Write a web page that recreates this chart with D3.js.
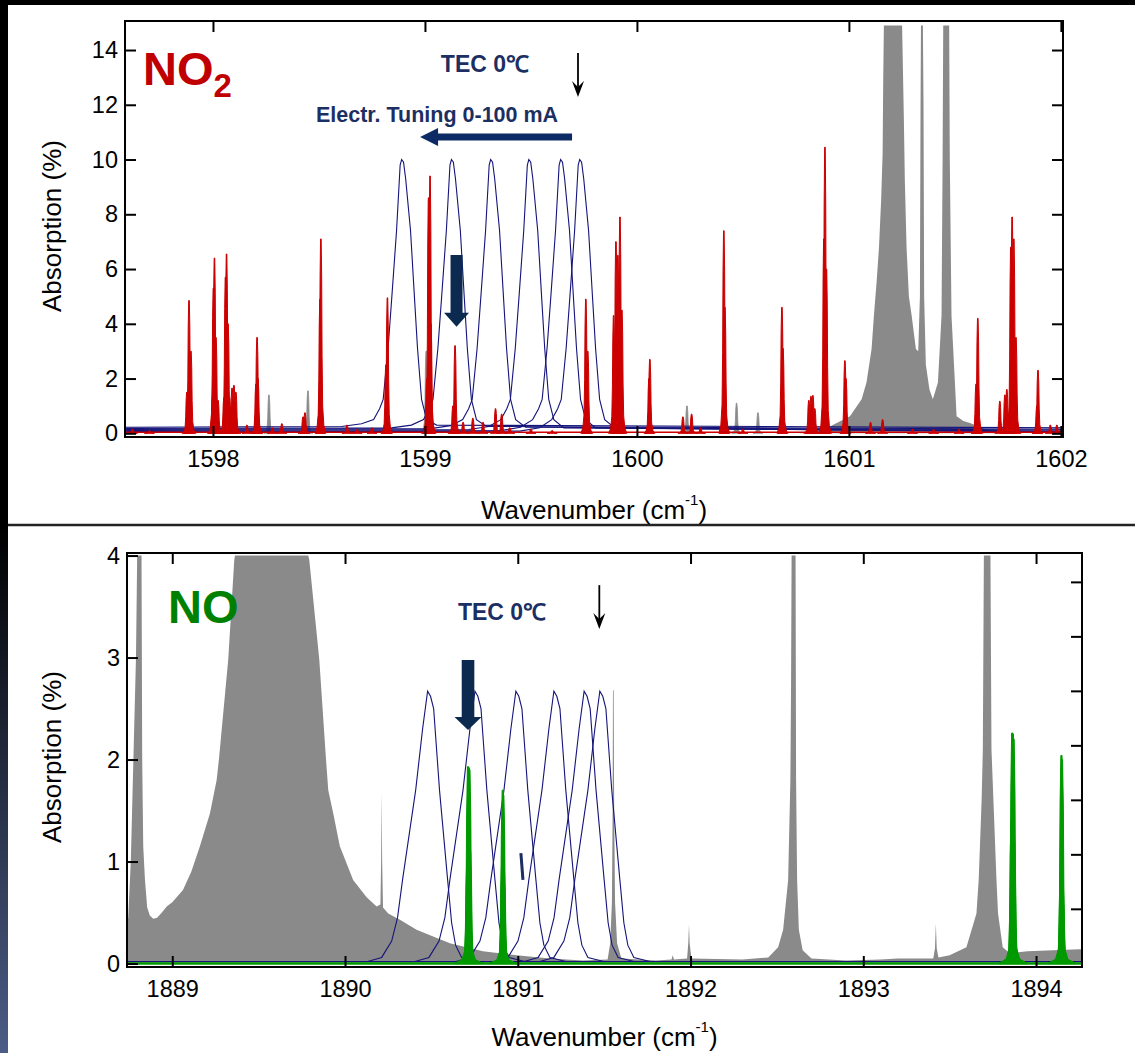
<!DOCTYPE html>
<html>
<head>
<meta charset="utf-8">
<script src="https://cdn.jsdelivr.net/npm/d3@7"></script>
<style>
body { margin: 0; background: #fff; }
svg { display: block; }
</style>
</head>
<body>
<div id="mainDiv"></div>
<script>
'use strict';

// ---------- NO2 panel (1597.6 - 1602 cm-1) ----------
var no2XTicks = [1598, 1599, 1600, 1601, 1602];
var no2YTicks = [0, 2, 4, 6, 8, 10, 12, 14];

// red NO2 absorption lines: [wavenumber, absorption %]
var no2Lines = [
    [1597.62, 0.15], [1597.70, 0.1],
    [1597.877, 1.5], [1597.887, 4.85], [1597.896, 3.0],
    [1597.998, 1.35], [1598.002, 5.3], [1598.007, 6.4], [1598.014, 3.5], [1598.024, 1.2],
    [1598.052, 1.3], [1598.059, 5.7], [1598.064, 6.55], [1598.071, 4.0], [1598.078, 1.3],
    [1598.090, 1.65], [1598.099, 1.75], [1598.108, 1.5],
    [1598.16, 0.3],
    [1598.203, 1.8], [1598.208, 3.5], [1598.212, 2.0],
    [1598.28, 0.2], [1598.325, 0.35],
    [1598.425, 0.6], [1598.434, 0.75],
    [1598.505, 4.9], [1598.509, 7.1],
    [1598.632, 0.3], [1598.68, 0.15], [1598.75, 0.2],
    [1598.816, 2.5], [1598.823, 4.95],
    [1599.009, 2.0], [1599.017, 8.6], [1599.024, 9.4], [1599.028, 4.0],
    [1599.132, 1.0], [1599.142, 3.2],
    [1599.18, 0.4], [1599.226, 0.55], [1599.274, 0.4], [1599.333, 0.9], [1599.362, 0.7], [1599.40, 0.2],
    [1599.50, 0.15], [1599.60, 0.1],
    [1599.759, 4.9], [1599.768, 3.0],
    [1599.89, 4.3], [1599.901, 7.0], [1599.910, 6.5], [1599.920, 7.9], [1599.929, 4.5],
    [1600.057, 2.0], [1600.061, 2.7],
    [1600.217, 0.6], [1600.258, 0.7], [1600.30, 0.2],
    [1600.41, 7.4], [1600.415, 4.6],
    [1600.50, 0.15],
    [1600.684, 4.6], [1600.689, 3.1],
    [1600.811, 1.2], [1600.821, 1.35], [1600.830, 1.38], [1600.839, 0.9],
    [1600.882, 7.1], [1600.887, 10.45], [1600.894, 6.0],
    [1600.981, 2.65], [1600.986, 2.0],
    [1601.102, 0.4], [1601.159, 0.5], [1601.30, 0.15], [1601.40, 0.15], [1601.52, 0.15],
    [1601.60, 1.8], [1601.608, 4.2],
    [1601.712, 1.17], [1601.736, 1.4], [1601.745, 1.6], [1601.764, 6.8], [1601.770, 7.9], [1601.778, 7.1], [1601.788, 3.5],
    [1601.887, 1.0], [1601.892, 2.3],
    [1601.95, 0.3], [1601.981, 0.3]
];

// grey interfering lines (narrow)
var no2GrayLines = [
    [1598.264, 1.4], [1598.448, 1.55], [1599.006, 3.0],
    [1600.236, 1.0], [1600.470, 1.1], [1600.571, 0.75]
];

// grey broad band around 1601.2 (clipped at top of the frame)
var no2GrayBand = [
    [1600.769, 0.03], [1600.840, 0.12], [1600.910, 0.25], [1601.005, 0.62], [1601.060, 1.24],
    [1601.083, 1.86], [1601.107, 3.08], [1601.118, 4.3], [1601.131, 5.55], [1601.142, 6.8],
    [1601.152, 8.5], [1601.159, 10.2], [1601.162, 13.0], [1601.165, 14.9], [1601.251, 14.9],
    [1601.259, 11.6], [1601.264, 9.2], [1601.272, 6.8], [1601.283, 5.0], [1601.296, 4.3],
    [1601.316, 3.08], [1601.327, 3.0], [1601.335, 5.0], [1601.338, 12.0], [1601.340, 14.9],
    [1601.349, 14.9], [1601.352, 12.0], [1601.355, 5.0], [1601.363, 2.5], [1601.380, 1.6],
    [1601.396, 1.24], [1601.420, 1.86], [1601.437, 4.3], [1601.442, 10.0], [1601.445, 14.9],
    [1601.473, 14.9], [1601.476, 10.0], [1601.484, 4.3], [1601.500, 1.86], [1601.508, 0.62],
    [1601.540, 0.45], [1601.571, 0.38], [1601.642, 0.15], [1601.712, 0.03]
];

// laser emission profiles (electrical tuning 0-100 mA)
var no2Laser1 = [[1597.59, 0.22], [1598.607, 0.25], [1598.701, 0.35], [1598.758, 0.5], [1598.786, 0.9], [1598.803, 1.24], [1598.826, 3.1], [1598.843, 4.9], [1598.866, 7.4], [1598.883, 9.8], [1598.89, 10.0], [1598.899, 9.9], [1598.909, 9.3], [1598.932, 7.4], [1598.951, 4.9], [1598.965, 3.1], [1598.984, 1.24], [1599.008, 0.5], [1599.055, 0.3], [1602.01, 0.2]];
var no2Laser2 = [[1597.59, 0.18], [1598.842, 0.2], [1598.936, 0.3], [1598.993, 0.5], [1599.021, 0.9], [1599.038, 1.24], [1599.061, 3.1], [1599.078, 4.9], [1599.101, 7.4], [1599.118, 9.8], [1599.125, 10.0], [1599.134, 9.9], [1599.144, 9.3], [1599.167, 7.4], [1599.186, 4.9], [1599.2, 3.1], [1599.219, 1.24], [1599.243, 0.5], [1599.29, 0.25], [1602.01, 0.15]];
var no2Laser3 = [[1597.59, 0.14], [1599.027, 0.17], [1599.121, 0.28], [1599.178, 0.5], [1599.206, 0.9], [1599.223, 1.24], [1599.246, 3.1], [1599.263, 4.9], [1599.286, 7.4], [1599.303, 9.8], [1599.31, 10.0], [1599.319, 9.9], [1599.329, 9.3], [1599.352, 7.4], [1599.371, 4.9], [1599.385, 3.1], [1599.404, 1.24], [1599.428, 0.5], [1599.475, 0.22], [1602.01, 0.12]];
var no2Laser4 = [[1597.59, 0.1], [1599.207, 0.14], [1599.301, 0.25], [1599.358, 0.5], [1599.386, 0.9], [1599.403, 1.24], [1599.426, 3.1], [1599.443, 4.9], [1599.466, 7.4], [1599.483, 9.8], [1599.49, 10.0], [1599.499, 9.9], [1599.509, 9.3], [1599.532, 7.4], [1599.551, 4.9], [1599.565, 3.1], [1599.584, 1.24], [1599.608, 0.5], [1599.655, 0.2], [1602.01, 0.08]];
var no2Laser5 = [[1597.59, 0.07], [1599.357, 0.1], [1599.451, 0.22], [1599.508, 0.5], [1599.536, 0.9], [1599.553, 1.24], [1599.576, 3.1], [1599.593, 4.9], [1599.616, 7.4], [1599.633, 9.8], [1599.64, 10.0], [1599.649, 9.9], [1599.659, 9.3], [1599.682, 7.4], [1599.701, 4.9], [1599.715, 3.1], [1599.734, 1.24], [1599.758, 0.5], [1599.805, 0.2], [1602.01, 0.06]];
var no2Laser6 = [[1597.59, 0.04], [1599.447, 0.08], [1599.541, 0.2], [1599.598, 0.5], [1599.626, 0.9], [1599.643, 1.24], [1599.666, 3.1], [1599.683, 4.9], [1599.706, 7.4], [1599.723, 9.8], [1599.73, 10.0], [1599.739, 9.9], [1599.749, 9.3], [1599.772, 7.4], [1599.791, 4.9], [1599.805, 3.1], [1599.824, 1.24], [1599.848, 0.5], [1599.895, 0.2], [1602.01, 0.04]];

// ---------- NO panel (1888.7 - 1894.3 cm-1) ----------
var noXTicks = [1889, 1890, 1891, 1892, 1893, 1894];
var noYTicks = [0, 1, 2, 3, 4];
var noRightTicks = [2, 4, 6, 8, 10, 12, 14];

// green NO lines
var noLines = [
    [1890.708, 1.0], [1890.712, 1.93], [1890.716, 1.92], [1890.72, 1.9], [1890.724, 1.1],
    [1890.91, 1.0], [1890.913, 1.70], [1890.916, 1.65], [1890.92, 0.9],
    [1893.858, 1.4], [1893.862, 2.26], [1893.866, 2.25], [1893.87, 2.2], [1893.873, 1.2],
    [1894.144, 0.9], [1894.147, 2.04], [1894.15, 2.0], [1894.154, 0.8]
];

// grey interfering spectrum
var noGray = [
    [1888.738, 0.42], [1888.745, 0.45], [1888.76, 1.0], [1888.775, 2.0], [1888.79, 3.0], [1888.797, 4.0],
    [1888.822, 4.0], [1888.826, 2.0], [1888.832, 1.15], [1888.842, 0.82], [1888.855, 0.55], [1888.87, 0.47],
    [1888.89, 0.44], [1888.912, 0.45], [1888.94, 0.5], [1888.968, 0.56], [1889.0, 0.6], [1889.062, 0.72],
    [1889.11, 0.9], [1889.16, 1.15], [1889.218, 1.47], [1889.257, 1.8], [1889.27, 2.0], [1889.324, 2.98],
    [1889.359, 3.96], [1889.363, 4.0], [1889.787, 4.0], [1889.793, 3.96], [1889.851, 2.98], [1889.89, 2.0],
    [1889.903, 1.7], [1889.932, 1.47], [1889.97, 1.15], [1890.047, 0.82], [1890.125, 0.65], [1890.183, 0.56],
    [1890.205, 0.58], [1890.209, 1.0], [1890.212, 1.68], [1890.215, 1.0], [1890.22, 0.55], [1890.25, 0.49],
    [1890.318, 0.43], [1890.414, 0.33], [1890.607, 0.2], [1890.798, 0.12], [1890.993, 0.08], [1891.186, 0.05],
    [1891.377, 0.03], [1891.52, 0.04], [1891.535, 0.2], [1891.545, 0.6], [1891.549, 1.5], [1891.551, 2.68],
    [1891.555, 2.68], [1891.558, 1.5], [1891.563, 0.6], [1891.575, 0.2], [1891.6, 0.05], [1891.8, 0.03],
    [1891.89, 0.04], [1891.897, 0.08], [1891.904, 0.04], [1891.98, 0.05], [1891.987, 0.2], [1891.991, 0.38],
    [1891.995, 0.2], [1892.005, 0.05], [1892.3, 0.04], [1892.45, 0.06], [1892.507, 0.16], [1892.536, 0.33],
    [1892.565, 0.82], [1892.578, 1.8], [1892.582, 2.76], [1892.585, 4.0], [1892.608, 4.0], [1892.611, 1.8],
    [1892.617, 0.82], [1892.627, 0.33], [1892.649, 0.13], [1892.7, 0.05], [1892.9, 0.03], [1893.1, 0.04],
    [1893.2, 0.05], [1893.405, 0.05], [1893.415, 0.15], [1893.42, 0.39], [1893.425, 0.15], [1893.435, 0.06],
    [1893.5, 0.08], [1893.597, 0.16], [1893.655, 0.49], [1893.668, 0.82], [1893.685, 1.6], [1893.692, 2.1],
    [1893.698, 4.0], [1893.736, 4.0], [1893.742, 2.1], [1893.771, 0.82], [1893.78, 0.49], [1893.807, 0.16],
    [1893.848, 0.1], [1893.95, 0.12], [1894.1, 0.13], [1894.25, 0.14], [1894.266, 0.14]
];

var noLaser1 = [[1888.74, 0.02], [1890.131, 0.02], [1890.212, 0.06], [1890.27, 0.22], [1890.304, 0.45], [1890.333, 0.82], [1890.409, 1.7], [1890.449, 2.3], [1890.478, 2.67], [1890.495, 2.62], [1890.513, 2.5], [1890.547, 1.7], [1890.594, 0.82], [1890.617, 0.4], [1890.64, 0.18], [1890.675, 0.06], [1890.767, 0.02], [1894.27, 0.02]];
var noLaser2 = [[1888.74, 0.02], [1890.405, 0.02], [1890.486, 0.06], [1890.544, 0.22], [1890.578, 0.45], [1890.607, 0.82], [1890.683, 1.7], [1890.723, 2.3], [1890.752, 2.67], [1890.769, 2.62], [1890.787, 2.5], [1890.821, 1.7], [1890.868, 0.82], [1890.891, 0.4], [1890.914, 0.18], [1890.949, 0.06], [1891.041, 0.02], [1894.27, 0.02]];
var noLaser3 = [[1888.74, 0.02], [1890.642, 0.02], [1890.723, 0.06], [1890.781, 0.22], [1890.815, 0.45], [1890.844, 0.82], [1890.92, 1.7], [1890.96, 2.3], [1890.989, 2.67], [1891.006, 2.62], [1891.024, 2.5], [1891.058, 1.7], [1891.105, 0.82], [1891.128, 0.4], [1891.151, 0.18], [1891.186, 0.06], [1891.278, 0.02], [1894.27, 0.02]];
var noLaser4 = [[1888.74, 0.02], [1890.862, 0.02], [1890.943, 0.06], [1891.001, 0.22], [1891.035, 0.45], [1891.064, 0.82], [1891.14, 1.7], [1891.18, 2.3], [1891.209, 2.67], [1891.226, 2.62], [1891.244, 2.5], [1891.278, 1.7], [1891.325, 0.82], [1891.348, 0.4], [1891.371, 0.18], [1891.406, 0.06], [1891.498, 0.02], [1894.27, 0.02]];
var noLaser5 = [[1888.74, 0.02], [1891.037, 0.02], [1891.118, 0.06], [1891.176, 0.22], [1891.21, 0.45], [1891.239, 0.82], [1891.315, 1.7], [1891.355, 2.3], [1891.384, 2.67], [1891.401, 2.62], [1891.419, 2.5], [1891.453, 1.7], [1891.5, 0.82], [1891.523, 0.4], [1891.546, 0.18], [1891.581, 0.06], [1891.673, 0.02], [1894.27, 0.02]];
var noLaser6 = [[1888.74, 0.02], [1891.128, 0.02], [1891.209, 0.06], [1891.267, 0.22], [1891.301, 0.45], [1891.33, 0.82], [1891.406, 1.7], [1891.446, 2.3], [1891.475, 2.67], [1891.492, 2.62], [1891.51, 2.5], [1891.544, 1.7], [1891.591, 0.82], [1891.614, 0.4], [1891.637, 0.18], [1891.672, 0.06], [1891.764, 0.02], [1894.27, 0.02]];

var myApp = {};

myApp.font = "'Liberation Sans', Arial, Helvetica, sans-serif";
myApp.gray = "#8a8a8a";
myApp.navy = "#14147a";
myApp.textNavy = "#1c2f62";
myApp.arrowNavy = "#0c2a50";

// spike glyph shapes: [dx px, fraction of peak height]
myApp.narrowSkirt = [[-5, 0], [-3, 0.04], [-1.8, 0.14], [-1.2, 0.4], [-0.8, 0.8], [-0.3, 1], [0.3, 1], [0.8, 0.8], [1.2, 0.4], [1.8, 0.14], [3, 0.04], [5, 0]];
myApp.wideSkirt = [[-14, 0], [-6, 0.02], [-3, 0.07], [-2, 0.3], [-1.4, 0.75], [-0.6, 1], [0.6, 1], [1.4, 0.75], [2, 0.3], [3, 0.07], [6, 0.02], [14, 0]];

myApp.spike = function (xs, ys, d, skirt)
{
    var x = xs(d[0]), y0 = ys(0), hgt = y0 - ys(d[1]);
    var pts = skirt.map(function (s) { return [x + s[0], y0 - s[1] * hgt]; });
    return d3.line()(pts) + "Z";
}

myApp.styleAxis = function (ax)
{
    ax.select(".domain").remove();
    ax.selectAll("line").attr("stroke", "#000").attr("stroke-width", 2);
    ax.selectAll("text")
        .attr("font-family", myApp.font)
        .attr("font-size", "23.5px")
        .attr("fill", "#000");
}

myApp.downArrow = function (svg, x, yTop, yTip, shaft, headW, headL, color)
{
    var pts = [[x - shaft / 2, yTop], [x + shaft / 2, yTop], [x + shaft / 2, yTip - headL],
        [x + headW / 2, yTip - headL], [x, yTip], [x - headW / 2, yTip - headL], [x - shaft / 2, yTip - headL]];
    svg.append("path").attr("d", d3.line()(pts) + "Z").attr("fill", color);
}

myApp.thinArrow = function (svg, x, yTop, yTip)
{
    svg.append("line")
        .attr("x1", x).attr("y1", yTop).attr("x2", x).attr("y2", yTip - 10)
        .attr("stroke", "#000").attr("stroke-width", 1.8);
    var pts = [[x - 6, yTip - 16], [x, yTip - 10], [x + 6, yTip - 16], [x, yTip]];
    svg.append("path").attr("d", d3.line()(pts) + "Z").attr("fill", "#000");
}

myApp.panel = function (svg, p)
{
    var xs = d3.scaleLinear().domain(p.xDomain).range([p.left, p.right]);
    var ys = d3.scaleLinear().domain(p.yDomain).range([p.bottom, p.top]);
    var yr = d3.scaleLinear().domain(p.rightDomain).range([p.bottom, p.top]);

    svg.append("clipPath").attr("id", p.id + "Clip").append("rect")
        .attr("x", p.left).attr("y", p.top)
        .attr("width", p.right - p.left).attr("height", p.bottom - p.top);

    var g = svg.append("g").attr("clip-path", "url(#" + p.id + "Clip)");

    var area = d3.area()
        .x(function (d) { return xs(d[0]); })
        .y0(ys(0))
        .y1(function (d) { return ys(d[1]); });

    var line = d3.line()
        .x(function (d) { return xs(d[0]); })
        .y(function (d) { return ys(d[1]); });

    g.append("path").datum(p.grayBand).attr("d", area).attr("fill", myApp.gray);

    g.selectAll("path.gspike")
        .data(p.grayLines)
        .enter()
        .append("path")
            .attr("class", "gspike")
            .attr("d", function (d) { return myApp.spike(xs, ys, d, myApp.narrowSkirt); })
            .attr("fill", myApp.gray)
            .attr("stroke", myApp.gray)
            .attr("stroke-width", 0.8);

    g.selectAll("path.laser")
        .data(p.laser)
        .enter()
        .append("path")
            .attr("class", "laser")
            .attr("d", line)
            .attr("fill", "none")
            .attr("stroke", myApp.navy)
            .attr("stroke-width", 1.1);

    // baseline of the gas spectrum
    g.append("line")
        .attr("x1", p.left).attr("x2", p.right)
        .attr("y1", ys(p.baseValue)).attr("y2", ys(p.baseValue))
        .attr("stroke", p.color).attr("stroke-width", p.baseWidth);

    g.selectAll("path.cspike")
        .data(p.lines)
        .enter()
        .append("path")
            .attr("class", "cspike")
            .attr("d", function (d) { return myApp.spike(xs, ys, d, p.skirt); })
            .attr("fill", p.color)
            .attr("stroke", p.color)
            .attr("stroke-width", 1);

    // axes, ticks pointing inward on all four sides
    var bottomAx = svg.append("g")
        .attr("transform", "translate(0," + p.bottom + ")")
        .call(d3.axisBottom(xs).tickValues(p.xTicks).tickSize(-11).tickPadding(13).tickFormat(d3.format("d")));
    myApp.styleAxis(bottomAx);

    var topAx = svg.append("g")
        .attr("transform", "translate(0," + p.top + ")")
        .call(d3.axisTop(xs).tickValues(p.xTicks).tickSize(-11).tickFormat(""));
    myApp.styleAxis(topAx);

    var leftAx = svg.append("g")
        .attr("transform", "translate(" + p.left + ",0)")
        .call(d3.axisLeft(ys).tickValues(p.yTicks).tickSize(-11).tickPadding(7).tickFormat(d3.format("d")));
    myApp.styleAxis(leftAx);

    var rightAx = svg.append("g")
        .attr("transform", "translate(" + p.right + ",0)")
        .call(d3.axisRight(yr).tickValues(p.rightTicks).tickSize(-11).tickFormat(""));
    myApp.styleAxis(rightAx);

    svg.append("rect")
        .attr("x", p.left).attr("y", p.top)
        .attr("width", p.right - p.left).attr("height", p.bottom - p.top)
        .attr("fill", "none").attr("stroke", "#000").attr("stroke-width", 2);

    // axis titles
    var xt = svg.append("text")
        .attr("x", (p.left + p.right) / 2)
        .attr("y", p.bottom + p.titleOffset)
        .attr("text-anchor", "middle")
        .attr("font-family", myApp.font)
        .attr("font-size", "26px")
        .attr("fill", "#000");
    xt.append("tspan").text("Wavenumber (cm");
    xt.append("tspan").attr("font-size", "15px").attr("dy", -14).text("-1");
    xt.append("tspan").attr("dy", 14).text(")");

    svg.append("text")
        .attr("transform", "translate(61," + ((p.top + p.bottom) / 2 - 3) + ") rotate(-90)")
        .attr("text-anchor", "middle")
        .attr("font-family", myApp.font)
        .attr("font-size", "26px")
        .attr("fill", "#000")
        .text("Absorption (%)");

    return { xs: xs, ys: ys };
}

myApp.boldText = function (svg, x, y, size, color, txt, anchor)
{
    return svg.append("text")
        .attr("x", x).attr("y", y)
        .attr("text-anchor", anchor || "start")
        .attr("font-family", myApp.font)
        .attr("font-weight", "bold")
        .attr("font-size", size)
        .attr("fill", color)
        .text(txt);
}

myApp.run = function ()
{
    var svg = d3.select("#mainDiv").append("svg")
        .attr("width", 1135)
        .attr("height", 1053);

    // slide frame
    svg.append("rect").attr("width", 1135).attr("height", 1053).attr("fill", "#fff");
    var grad = svg.append("defs").append("linearGradient")
        .attr("id", "edgeGrad").attr("x1", 0).attr("y1", 0).attr("x2", 0).attr("y2", 1);
    grad.append("stop").attr("offset", "0%").attr("stop-color", "#000");
    grad.append("stop").attr("offset", "100%").attr("stop-color", "#4b5c86");
    svg.append("rect").attr("x", 0).attr("y", 0).attr("width", 1135).attr("height", 5).attr("fill", "#000");
    svg.append("rect").attr("x", 0).attr("y", 0).attr("width", 8).attr("height", 526).attr("fill", "#000");
    svg.append("rect").attr("x", 0).attr("y", 526).attr("width", 8).attr("height", 527).attr("fill", "url(#edgeGrad)");
    svg.append("line").attr("x1", 8).attr("x2", 1135).attr("y1", 525).attr("y2", 525)
        .attr("stroke", "#222").attr("stroke-width", 2.5);

    // ---- NO2 panel ----
    var top = myApp.panel(svg, {
        id: "no2",
        left: 125, right: 1063, top: 21, bottom: 437,
        xDomain: [1597.585, 1602.01],
        yDomain: [-0.135, 15.06],
        rightDomain: [-0.135, 15.06],
        xTicks: no2XTicks, yTicks: no2YTicks, rightTicks: no2YTicks,
        grayBand: no2GrayBand, grayLines: no2GrayLines,
        laser: [no2Laser1, no2Laser2, no2Laser3, no2Laser4, no2Laser5, no2Laser6],
        lines: no2Lines, color: "#cc0000", skirt: myApp.narrowSkirt,
        baseValue: 0.04, baseWidth: 1.5, titleOffset: 82
    });

    var t1 = myApp.boldText(svg, top.xs(1597.67), top.ys(12.72), "47px", "#c00000", "NO");
    t1.append("tspan").attr("font-size", "33px").attr("dy", 12).text("2");
    myApp.boldText(svg, top.xs(1599.283), top.ys(13.2), "23px", myApp.textNavy, "TEC 0\u2103", "middle");
    myApp.boldText(svg, top.xs(1598.486), top.ys(11.38), "21.5px", myApp.textNavy, "Electr. Tuning 0-100 mA");
    myApp.thinArrow(svg, top.xs(1599.722), top.ys(13.89), top.ys(12.28));

    // big arrow pointing to lower wavenumber
    var ax0 = top.xs(1599.694), ax1 = top.xs(1598.977), ay = top.ys(10.82);
    var lpts = [[ax0, ay - 3.5], [ax1 + 18, ay - 3.5], [ax1 + 18, ay - 9], [ax1, ay],
        [ax1 + 18, ay + 9], [ax1 + 18, ay + 3.5], [ax0, ay + 3.5]];
    svg.append("path").attr("d", d3.line()(lpts) + "Z").attr("fill", "#0c2a64");

    myApp.downArrow(svg, top.xs(1599.149), top.ys(6.51), top.ys(3.89), 12, 25, 14, myApp.arrowNavy);

    // ---- NO panel ----
    var bot = myApp.panel(svg, {
        id: "no",
        left: 127, right: 1082, top: 553, bottom: 967,
        xDomain: [1888.738, 1894.266],
        yDomain: [-0.034, 4.025],
        rightDomain: [-0.135, 15.06],
        xTicks: noXTicks, yTicks: noYTicks, rightTicks: noRightTicks,
        grayBand: noGray, grayLines: [],
        laser: [noLaser1, noLaser2, noLaser3, noLaser4, noLaser5, noLaser6],
        lines: noLines, color: "#009a00", skirt: myApp.wideSkirt,
        baseValue: 0.0, baseWidth: 2.5, titleOffset: 79
    });

    myApp.boldText(svg, bot.xs(1888.975), bot.ys(3.339), "47px", "#008000", "NO");
    myApp.boldText(svg, bot.xs(1890.909), bot.ys(3.368), "23px", myApp.textNavy, "TEC 0\u2103", "middle");
    myApp.thinArrow(svg, bot.xs(1891.472), bot.ys(3.71), bot.ys(3.279));
    myApp.downArrow(svg, bot.xs(1890.712), bot.ys(2.975), bot.ys(2.289), 12.6, 27, 13, myApp.arrowNavy);

    svg.append("line")
        .attr("x1", bot.xs(1891.018)).attr("y1", bot.ys(1.083))
        .attr("x2", bot.xs(1891.03)).attr("y2", bot.ys(0.82))
        .attr("stroke", myApp.textNavy).attr("stroke-width", 3);
}

window.onload = myApp.run;
</script>
</body>
</html>
